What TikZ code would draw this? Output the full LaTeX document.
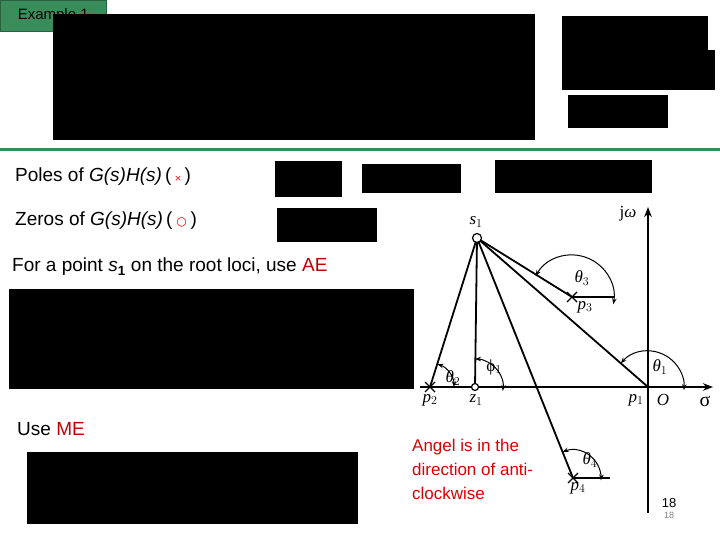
\documentclass[tikz,border=0pt]{standalone}
\usepackage{fontspec}
\setmainfont{Liberation Sans}
\newfontfamily\serf{Liberation Serif}
\newfontfamily\djvfont{DejaVu Sans}
\usetikzlibrary{arrows.meta,calc}
\definecolor{gr}{RGB}{58,140,90}
\definecolor{dred}{RGB}{192,0,0}
\definecolor{rred}{RGB}{220,0,0}
\begin{document}
\begin{tikzpicture}[x=1pt,y=1pt,
 blk/.style={fill=black},
 txt/.style={anchor=west,inner sep=0,font=\fontsize{19}{22}\selectfont},
 fl/.style={font=\serf\fontsize{17}{18}\selectfont\itshape,inner sep=0},
 ln/.style={line width=1.8pt},
 ang/.style={line width=1pt,{Stealth[length=6pt]}-{Stealth[length=6pt]}},
 ax/.style={line width=1.8pt,-{Stealth[length=10pt]}}]
\useasboundingbox (0,0) rectangle (720,540);
\fill[white] (0,0) rectangle (720,540);
% header
\node[fill=gr,draw=gr!70!black,minimum width=106,minimum height=31,anchor=north west,inner sep=0,font=\fontsize{15}{16}\selectfont] (ex) at (0,540) {Example 1};
\fill[blk] (53,526) rectangle (535,400);
\fill[blk] (562,524) rectangle (708,488);
\fill[blk] (562,490) rectangle (715,450);
\fill[blk] (568,445) rectangle (668,412);
\draw[gr,line width=3pt] (0,390) -- (720,390);
\fill[blk] (275,379) rectangle (342,343);
\fill[blk] (362,376) rectangle (461,347);
\fill[blk] (495,380) rectangle (652,347);
\fill[blk] (277,332) rectangle (377,298);
\fill[blk] (9,251) rectangle (414,151);
\fill[blk] (27,88) rectangle (358,16);
% texts
\node[txt] (t1) at (15,363) {Poles of \textit{G(s)H(s)}\,({\color{rred}\djvfont\fontsize{9}{10}\selectfont\ ×\ })};
\node[txt] (t2) at (15,319) {Zeros of \textit{G(s)H(s)}\,({\color{rred}\djvfont\fontsize{12}{10}\selectfont\ ○\ })};
\node[txt] (t3) at (12,273) {For a point \textit{s}$_{\mathbf 1}$ on the root loci, use {\color{dred}AE}};
\node[txt] (t4) at (17,111) {Use {\color{dred}ME}};
\node[anchor=north west,inner sep=0,align=left,text=rred,font=\fontsize{17}{24}\selectfont] (t5) at (412,101) {Angel is in the\\direction of anti-\\clockwise};
\node[font=\fontsize{13}{14}\selectfont,inner sep=0] (pg) at (669,37) {18};
\node[font=\fontsize{9}{10}\selectfont,text=gray,inner sep=0] (pg2) at (669,25) {18};
% figure
\coordinate (O) at (648,153);
\coordinate (s1) at (477,302);
\coordinate (z1) at (475,153);
\coordinate (p2) at (430,153);
\coordinate (p3) at (572,243);
\coordinate (p4) at (573,62);
\coordinate (sE) at (713,153);
\coordinate (sW) at (420,153);
\coordinate (jS) at (648,27);
\coordinate (jN) at (648,333);
\coordinate (p3e) at (614,243);
\coordinate (p4e) at (610,62);
\draw[ax] (sW) -- (sE);
\draw[ax] (jS) -- (jN);
\draw[ln] (s1) -- (p2);
\draw[ln] (s1) -- (z1);
\draw[ln] (s1) -- (p3);
\draw[ln] (s1) -- (O);
\draw[ln] (s1) -- (p4);
\draw[line width=1.4pt] (p3) -- (p3e);
\draw[line width=1.4pt] (p4) -- (p4e);
\draw[line width=1.2pt,fill=white] (s1) circle (4.5);
\draw[line width=1.2pt,fill=white] (z1) circle (3.5);
\foreach \p in {p2,p3,p4} \draw[line width=1.2pt] (\p) +(-5,-5) -- +(5,5) +(-5,5) -- +(5,-5);
\draw[ang] ($(O)+(139:36)$) arc[start angle=139,end angle=-5,radius=36];
\draw[ang] ($(p3)+(150:42)$) arc[start angle=150,end angle=-10,radius=42];
\draw[ang] ($(p2)+(0:24)$) arc[start angle=0,end angle=72,radius=24];
\draw[ang] ($(z1)+(-8:28)$) arc[start angle=-8,end angle=90,radius=28];
\draw[ang] ($(p4)+(112:28)$) arc[start angle=112,end angle=-5,radius=28];
\node[fl] (ls1) at (476,318) {s$_1$};
\node[fl] (ljw) at (628,326) {{\upshape j}ω};
\node[fl] (lp3) at (585,233) {p$_3$};
\node[fl] (lp2) at (430,140) {p$_2$};
\node[fl] (lz1) at (476,140) {z$_1$};
\node[fl] (lp1) at (636,140) {p$_1$};
\node[fl] (lO) at (663,140) {O};
\node[fl,font=\serf\fontsize{20}{20}\selectfont] (lsg) at (705,139) {σ};
\node[fl] (lt1) at (660,173) {θ$_1$};
\node[fl] (lt2) at (453,162) {θ$_2$};
\node[fl] (lf1) at (494,173) {\upshape ϕ$_1$};
\node[fl] (lt3) at (582,262) {θ$_3$};
\node[fl] (lt4) at (590,80) {θ$_4$};
\node[fl] (lp4) at (578,52) {p$_4$};
\end{tikzpicture}
\end{document}
